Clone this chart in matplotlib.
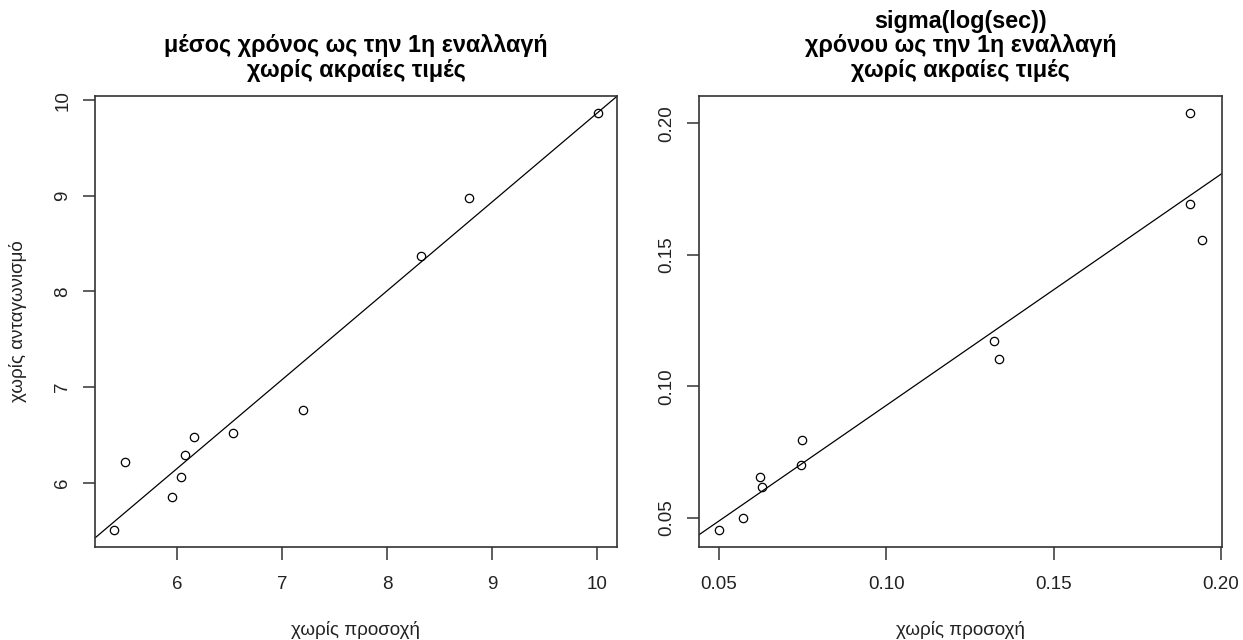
import numpy as np
import matplotlib.pyplot as plt

plt.rcParams['font.family'] = ['Liberation Sans', 'DejaVu Sans']

# mean time until 1st switch, outliers removed
mean_x = [5.406, 5.511, 5.958, 6.037, 6.082, 6.161, 6.536, 7.205, 8.319, 8.778, 10.003]
mean_y = [5.500, 6.217, 5.853, 6.056, 6.290, 6.480, 6.520, 6.757, 8.370, 8.981, 9.871]

# sigma(log(sec)) of time until 1st switch, outliers removed
sig_x = [0.0499, 0.0572, 0.0622, 0.0629, 0.0745, 0.0748, 0.1322, 0.1337, 0.1908, 0.1908, 0.1945]
sig_y = [0.0453, 0.0500, 0.0657, 0.0617, 0.0703, 0.0797, 0.1171, 0.1103, 0.2040, 0.1692, 0.1556]

mean_ticks_x = [6, 7, 8, 9, 10]
mean_ticks_y = [6, 7, 8, 9, 10]
sig_ticks = [0.05, 0.10, 0.15, 0.20]

title_left = 'μέσος χρόνος ως την 1η εναλλαγή\nχωρίς ακραίες τιμές'
title_right = 'sigma(log(sec))\nχρόνου ως την 1η εναλλαγή\nχωρίς ακραίες τιμές'
xlab = 'χωρίς προσοχή'
ylab = 'χωρίς ανταγωνισμό'


def r_lim(v):
    # base-R style 4% padding
    lo, hi = min(v), max(v)
    r = hi - lo
    return lo - 0.04 * r, hi + 0.04 * r


def panel(ax, x, y, xt, yt, fmt, title):
    ax.plot(x, y, 'o', mfc='none', mec='black', ms=6, mew=0.9)
    ax.set_xlim(r_lim(x))
    ax.set_ylim(r_lim(y))
    b, a = np.polyfit(x, y, 1)
    ax.axline((0, a), slope=b, color='black', lw=0.9)
    ax.set_xticks(xt)
    ax.set_yticks(yt)
    ax.set_xticklabels([fmt(t) for t in xt])
    ax.set_yticklabels([fmt(t) for t in yt], rotation=90, va='center')
    ax.tick_params(direction='out', length=9, width=1.1, labelsize=13.5,
                   pad=8, color='#333333', labelcolor='#222222')
    ax.tick_params(axis='x', pad=12)
    for s in ax.spines.values():
        s.set_linewidth(1.2)
        s.set_color('#333333')
    ax.set_title(title, fontsize=16.8, fontweight='bold', pad=14, linespacing=1.08)
    ax.set_xlabel(xlab, fontsize=13.5, labelpad=20, color='#222222')


fig = plt.figure(figsize=(12.43, 6.40), dpi=100)
ax1 = fig.add_axes([0.0764, 0.1453, 0.42, 0.7047])
ax2 = fig.add_axes([0.5626, 0.1453, 0.4203, 0.7047])

panel(ax1, mean_x, mean_y, mean_ticks_x, mean_ticks_y, lambda t: str(int(t)), title_left)
panel(ax2, sig_x, sig_y, sig_ticks, sig_ticks, lambda t: f'{t:.2f}', title_right)
ax1.set_ylabel(ylab, fontsize=13.5, labelpad=20, color='#222222')

fig.savefig('out.png', dpi=100)
